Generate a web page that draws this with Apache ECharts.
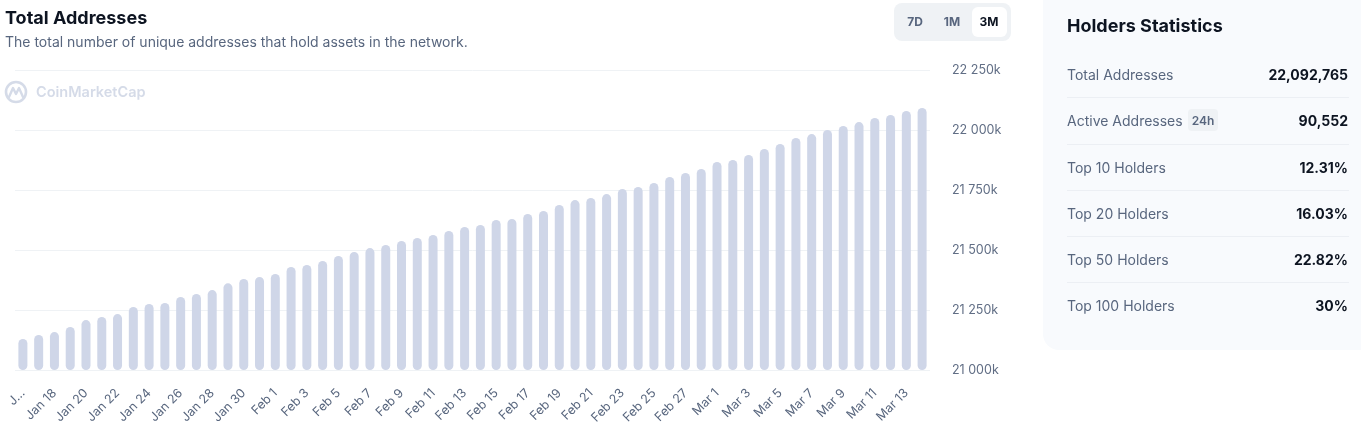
<!DOCTYPE html>
<html>
<head>
<meta charset="utf-8">
<script src="https://cdn.jsdelivr.net/npm/echarts@6/dist/echarts.min.js"></script>
<style>
  html, body { margin: 0; padding: 0; background: #fff; }
  #chart { width: 1361px; height: 432px; }
</style>
</head>
<body>
<div id="chart"></div>
<script>
// daily categories, Jan 16 .. Mar 14
var days = [
  'Jan 16','Jan 17','Jan 18','Jan 19','Jan 20','Jan 21','Jan 22','Jan 23','Jan 24','Jan 25',
  'Jan 26','Jan 27','Jan 28','Jan 29','Jan 30','Jan 31','Feb 1','Feb 2','Feb 3','Feb 4',
  'Feb 5','Feb 6','Feb 7','Feb 8','Feb 9','Feb 10','Feb 11','Feb 12','Feb 13','Feb 14',
  'Feb 15','Feb 16','Feb 17','Feb 18','Feb 19','Feb 20','Feb 21','Feb 22','Feb 23','Feb 24',
  'Feb 25','Feb 26','Feb 27','Feb 28','Mar 1','Mar 2','Mar 3','Mar 4','Mar 5','Mar 6',
  'Mar 7','Mar 8','Mar 9','Mar 10','Mar 11','Mar 12','Mar 13','Mar 14'
];

// total addresses, in thousands
var totals = [
  21129, 21146, 21158, 21179, 21208, 21221, 21233, 21263, 21275, 21279,
  21304, 21317, 21333, 21361, 21379, 21388, 21400, 21429, 21438, 21454,
  21475, 21492, 21508, 21521, 21538, 21550, 21563, 21579, 21596, 21604,
  21625, 21629, 21650, 21663, 21688, 21708, 21717, 21733, 21754, 21763,
  21779, 21804, 21821, 21838, 21867, 21875, 21896, 21921, 21942, 21967,
  21983, 22000, 22017, 22033, 22050, 22063, 22079, 22092
];

var ranges = ['7D', '1M', '3M'];
var statLabels = ['Total Addresses', 'Active Addresses', 'Top 10 Holders', 'Top 20 Holders', 'Top 50 Holders', 'Top 100 Holders'];
var statValues = ['22,092,765', '90,552', '12.31%', '16.03%', '22.82%', '30%'];

var FONT = 'Inter, "Noto Sans", sans-serif';

function fmtK(v) {
  return String(v).replace(/\B(?=(\d{3})+(?!\d))/g, ' ') + 'k';
}

var chart = echarts.init(document.getElementById('chart'));

var graphics = [];

// watermark
graphics.push({
  type: 'circle', shape: { cx: 16, cy: 92, r: 10 },
  style: { fill: 'none', stroke: '#d5dbe8', lineWidth: 2.6 }, z: 0
});
graphics.push({
  type: 'polyline', shape: { points: [[9, 97], [13, 88], [16, 94], [19, 88], [23, 97]] },
  style: { fill: 'none', stroke: '#d5dbe8', lineWidth: 2.4, lineJoin: 'round', lineCap: 'round' }, z: 0
});
graphics.push({
  type: 'text', x: 36, y: 93,
  style: { text: 'CoinMarketCap', fill: '#d5dbe8', font: '600 14.5px ' + FONT, verticalAlign: 'middle' }
});

// range buttons
graphics.push({
  type: 'rect', shape: { x: 894, y: 3, width: 117, height: 38, r: 8 },
  style: { fill: '#eff2f5' }
});
graphics.push({
  type: 'rect', shape: { x: 972, y: 7, width: 35, height: 30, r: 6 },
  style: { fill: '#ffffff' }
});
var btnX = [915, 952, 989];
ranges.forEach(function (r, i) {
  graphics.push({
    type: 'text', x: btnX[i], y: 22,
    style: {
      text: r, font: 'bold 12px ' + FONT, align: 'center', verticalAlign: 'middle',
      fill: i === 2 ? '#0d1421' : '#58667e'
    }
  });
});

// side panel
graphics.push({
  type: 'rect', shape: { x: 1043, y: -20, width: 340, height: 370, r: 16 },
  style: { fill: '#f8fafd' }
});
graphics.push({
  type: 'text', x: 1067, y: 26.5,
  style: { text: 'Holders Statistics', font: 'bold 18px ' + FONT, fill: '#0d1421', verticalAlign: 'middle' }
});
var rowY = [74, 120, 167, 213, 259, 305];
statLabels.forEach(function (lab, i) {
  graphics.push({
    type: 'text', x: 1067, y: rowY[i] + 1.5,
    style: { text: lab, font: '14px ' + FONT, fill: '#58667e', verticalAlign: 'middle' }
  });
  graphics.push({
    type: 'text', x: 1348, y: rowY[i] + 1.5,
    style: { text: statValues[i], font: 'bold 14px ' + FONT, fill: '#0d1421', align: 'right', verticalAlign: 'middle' }
  });
  if (i < statLabels.length - 1) {
    var sy = Math.round((rowY[i] + rowY[i + 1]) / 2) + 0.5;
    graphics.push({
      type: 'line', shape: { x1: 1067, y1: sy, x2: 1349, y2: sy },
      style: { stroke: '#eceff4', lineWidth: 1 }
    });
  }
});
// 24h badge
graphics.push({
  type: 'rect', shape: { x: 1188, y: 109, width: 30, height: 22, r: 4 },
  style: { fill: '#eff2f5' }
});
graphics.push({
  type: 'text', x: 1203, y: 121,
  style: { text: '24h', font: '600 12px ' + FONT, fill: '#58667e', align: 'center', verticalAlign: 'middle' }
});

var option = {
  animation: false,
  title: {
    text: 'Total Addresses',
    subtext: 'The total number of unique addresses that hold assets in the network.',
    left: 0, top: 5,
    itemGap: 8,
    textStyle: { fontFamily: FONT, fontSize: 18, fontWeight: 'bold', color: '#0d1421' },
    subtextStyle: { fontFamily: FONT, fontSize: 14, color: '#58667e' }
  },
  grid: { left: 15, right: 431, top: 70, bottom: 62 },
  xAxis: {
    type: 'category',
    data: days,
    axisLine: { show: false },
    axisTick: { show: false },
    axisLabel: {
      interval: 1,
      rotate: 45,
      margin: 21,
      fontFamily: FONT,
      fontSize: 12.5,
      color: '#58667e',
      formatter: function (v, i) { return i === 0 ? 'J...' : v; }
    }
  },
  yAxis: {
    type: 'value',
    position: 'right',
    min: 21000,
    max: 22250,
    interval: 250,
    axisLine: { show: false },
    axisTick: { show: false },
    splitLine: { lineStyle: { color: '#eff2f5' } },
    axisLabel: {
      margin: 22,
      fontFamily: FONT,
      fontSize: 12.5,
      color: '#616e85',
      formatter: fmtK
    }
  },
  series: [{
    type: 'bar',
    data: totals,
    barWidth: 9,
    itemStyle: { color: '#cfd6e8', borderRadius: 4.5 }
  }],
  graphic: graphics
};

chart.setOption(option);
</script>
</body>
</html>
